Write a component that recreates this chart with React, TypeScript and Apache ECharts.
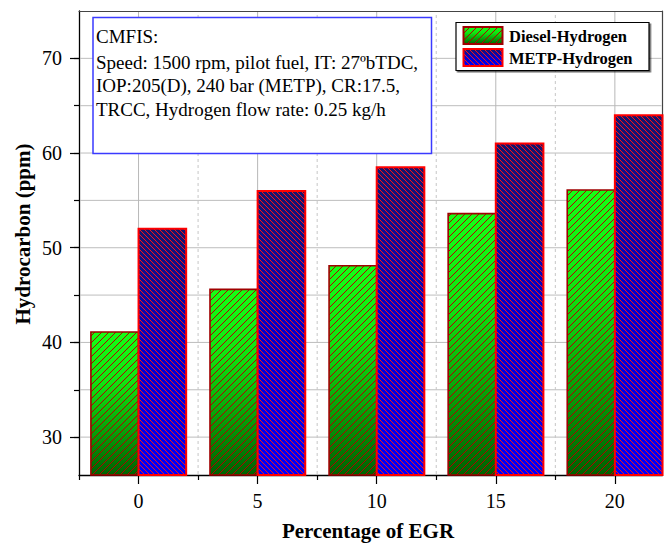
import React, { useEffect, useRef } from "react";
import * as echarts from "echarts";

// ---- data ----
const egr = [0, 5, 10, 15, 20];
const dieselHydrogen = [41.1, 45.6, 48.1, 53.6, 56.1];
const metpHydrogen = [52.0, 56.0, 58.5, 61.0, 64.0];
const seriesNames = ["Diesel-Hydrogen", "METP-Hydrogen"];
const xMajorTicks = [0, 5, 10, 15, 20];
const xMinorTicks = [-2.5, 2.5, 7.5, 12.5, 17.5];
const yMajorTicks = [30, 40, 50, 60, 70];
const yAllTicks = [30, 35, 40, 45, 50, 55, 60, 65, 70];
const xTitle = "Percentage of EGR";
const yTitle = "Hydrocarbon (ppm)";
const infoLines = [
  "CMFIS:",
  "Speed: 1500 rpm, pilot fuel, IT: 27ºbTDC,",
  "IOP:205(D), 240 bar (METP), CR:17.5,",
  "TRCC, Hydrogen flow rate: 0.25 kg/h",
];

const X_MIN = -2.5;
const X_MAX = 22;
const Y_MIN = 26;
const Y_MAX = 75;
const SERIF = '"Liberation Serif", "Times New Roman", serif';

function hatch(size: number, dir: string, color: string, lw: number) {
  const c = document.createElement("canvas");
  c.width = size;
  c.height = size;
  const ctx = c.getContext("2d")!;
  ctx.strokeStyle = color;
  ctx.lineWidth = lw;
  ctx.beginPath();
  if (dir === "/") {
    ctx.moveTo(-1, size + 1);
    ctx.lineTo(size + 1, -1);
    ctx.moveTo(-1, 1);
    ctx.lineTo(1, -1);
    ctx.moveTo(size - 1, size + 1);
    ctx.lineTo(size + 1, size - 1);
  } else {
    ctx.moveTo(-1, -1);
    ctx.lineTo(size + 1, size + 1);
    ctx.moveTo(size - 1, -1);
    ctx.lineTo(size + 1, 1);
    ctx.moveTo(-1, size - 1);
    ctx.lineTo(1, size + 1);
  }
  ctx.stroke();
  return {
    image: c.toDataURL(),
    repeat: "repeat",
    imageWidth: size,
    imageHeight: size,
  };
}

const greenGrad = () => ({
  type: "linear",
  x: 0,
  y: 0,
  x2: 0,
  y2: 1,
  colorStops: [
    { offset: 0, color: "#14ff14" },
    { offset: 0.35, color: "#10e410" },
    { offset: 1, color: "#006200" },
  ],
});
const blueGrad = () => ({
  type: "linear",
  x: 0,
  y: 0,
  x2: 0,
  y2: 1,
  colorStops: [
    { offset: 0, color: "#15156c" },
    { offset: 0.5, color: "#0000d0" },
    { offset: 1, color: "#0000ff" },
  ],
});

export default function App() {
  const ref = useRef<HTMLDivElement>(null);
  useEffect(() => {
    if (!ref.current) return;
    const chart = echarts.init(ref.current, undefined, { renderer: "svg" });
    const greenHatch = hatch(7, "/", "#b00000", 1);
    const blueHatch = hatch(5, "\\", "#ff1010", 1);

    const makeRender =
      (from: number, to: number, grad: any, pat: any, stroke: string, lw: number) =>
      (params: any, api: any) => {
        const x = api.value(0);
        const v = api.value(1);
        const p0 = api.coord([x + from, v]);
        const p1 = api.coord([x + to, Y_MIN]);
        const shape = { x: p0[0], y: p0[1], width: p1[0] - p0[0], height: p1[1] - p0[1] };
        return {
          type: "group",
          children: [
            { type: "rect", shape, style: { fill: grad } },
            { type: "rect", shape, style: { fill: pat, stroke, lineWidth: lw } },
          ],
        };
      };

    // grid line renderers (through the cartesian scales)
    const hLine = (params: any, api: any) => {
      const v = api.value(0);
      const a = api.coord([X_MIN, v]);
      const b = api.coord([X_MAX, v]);
      return {
        type: "line",
        shape: { x1: a[0] + 1, y1: a[1], x2: b[0] - 1, y2: b[1] },
        style: { stroke: "#bdbdbd", lineWidth: 1 },
      };
    };
    const vLine = (dashed: boolean) => (params: any, api: any) => {
      const v = api.value(0);
      const a = api.coord([v, Y_MIN]);
      const b = api.coord([v, Y_MAX]);
      return {
        type: "line",
        shape: { x1: a[0], y1: a[1] - 1, x2: b[0], y2: b[1] + 1 },
        style: dashed
          ? { stroke: "#c6c6c6", lineWidth: 1, lineDash: [3, 3] }
          : { stroke: "#b8b8b8", lineWidth: 1 },
      };
    };

    const baseY = {
      type: "value",
      min: Y_MIN,
      max: Y_MAX,
      position: "left",
      axisLine: { onZero: false, show: false },
      splitLine: { show: false },
    };
    const baseX = {
      type: "value",
      min: X_MIN,
      max: X_MAX,
      position: "bottom",
      axisLine: { onZero: false, show: false },
      splitLine: { show: false },
    };

    const graphics: any[] = [
      {
        type: "rect",
        z: 100,
        shape: { x: 93, y: 17.5, width: 338.5, height: 136 },
        style: { fill: "#fff", stroke: "#3a3aff", lineWidth: 1.5 },
      },
      ...infoLines.map((t, i) => ({
        type: "text",
        z: 101,
        x: 96,
        y: [36.5, 62, 85.5, 109][i],
        style: {
          text: t,
          fontSize: 19,
          fontFamily: SERIF,
          fill: "#000",
          align: "left",
          verticalAlign: "middle",
        },
      })),
      {
        type: "rect",
        z: 100,
        shape: { x: 456, y: 22.5, width: 193, height: 48 },
        style: {
          fill: "#fff",
          stroke: "#000",
          lineWidth: 1.2,
          shadowColor: "rgba(0,0,0,0.6)",
          shadowOffsetX: 1.5,
          shadowOffsetY: 1.5,
          shadowBlur: 0,
        },
      },
      { type: "rect", z: 101, shape: { x: 463.5, y: 27, width: 39, height: 17 }, style: { fill: greenGrad() } },
      {
        type: "rect",
        z: 102,
        shape: { x: 463.5, y: 27, width: 39, height: 17 },
        style: { fill: greenHatch, stroke: "#a00000", lineWidth: 2 },
      },
      { type: "rect", z: 101, shape: { x: 463.5, y: 49, width: 39, height: 17 }, style: { fill: blueGrad() } },
      {
        type: "rect",
        z: 102,
        shape: { x: 463.5, y: 49, width: 39, height: 17 },
        style: { fill: blueHatch, stroke: "#ff0000", lineWidth: 2 },
      },
      ...seriesNames.map((n, i) => ({
        type: "text",
        z: 101,
        x: 509,
        y: [36, 58][i],
        style: {
          text: n,
          fontSize: 16.5,
          fontWeight: "bold",
          fontFamily: SERIF,
          fill: "#000",
          align: "left",
          verticalAlign: "middle",
        },
      })),
      {
        type: "text",
        z: 101,
        x: 368,
        y: 531,
        style: {
          text: xTitle,
          fontSize: 21,
          fontWeight: "bold",
          fontFamily: SERIF,
          fill: "#000",
          align: "center",
          verticalAlign: "middle",
        },
      },
      {
        type: "text",
        z: 101,
        x: 23,
        y: 234,
        rotation: Math.PI / 2,
        style: {
          text: yTitle,
          fontSize: 21,
          fontWeight: "bold",
          fontFamily: SERIF,
          fill: "#000",
          align: "center",
          verticalAlign: "middle",
        },
      },
    ];

    const option: any = {
      animation: false,
      grid: { left: 79, right: 2.5, top: 11, bottom: 69, containLabel: false },
      xAxis: [
        {
          ...baseX,
          axisLine: { onZero: false, show: true, lineStyle: { color: "#000", width: 1.3 } },
          axisTick: { show: true, customValues: xMinorTicks, length: 5, lineStyle: { color: "#000", width: 1.2 } },
          axisLabel: { show: false },
        },
        {
          ...baseX,
          axisTick: { show: true, customValues: xMajorTicks, length: 9, lineStyle: { color: "#000", width: 1.2 } },
          axisLabel: {
            show: true,
            customValues: xMajorTicks,
            margin: 16,
            fontSize: 20,
            fontFamily: SERIF,
            color: "#000",
          },
        },
        {
          ...baseX,
          position: "top",
          axisLine: { onZero: false, show: true, lineStyle: { color: "#444", width: 1.2 } },
          axisTick: { show: false },
          axisLabel: { show: false },
        },
      ],
      yAxis: [
        {
          ...baseY,
          axisLine: { onZero: false, show: true, lineStyle: { color: "#000", width: 1.3 } },
          axisTick: { show: true, customValues: yAllTicks, length: 5, lineStyle: { color: "#000", width: 1.2 } },
          axisLabel: { show: false },
        },
        {
          ...baseY,
          axisTick: { show: true, customValues: yMajorTicks, length: 9, lineStyle: { color: "#000", width: 1.2 } },
          axisLabel: {
            show: true,
            customValues: yMajorTicks,
            margin: 17,
            fontSize: 20,
            fontFamily: SERIF,
            color: "#000",
          },
        },
        {
          ...baseY,
          position: "right",
          axisLine: { onZero: false, show: true, lineStyle: { color: "#444", width: 1.2 } },
          axisTick: { show: false },
          axisLabel: { show: false },
        },
      ],
      series: [
        {
          type: "custom",
          silent: true,
          xAxisIndex: 0,
          yAxisIndex: 0,
          encode: { y: 0 },
          data: yAllTicks.map((v) => [v]),
          renderItem: hLine,
          z: 1,
        },
        {
          type: "custom",
          silent: true,
          xAxisIndex: 0,
          yAxisIndex: 0,
          encode: { x: 0 },
          data: xMajorTicks.map((v) => [v]),
          renderItem: vLine(false),
          z: 1,
        },
        {
          type: "custom",
          silent: true,
          xAxisIndex: 0,
          yAxisIndex: 0,
          encode: { x: 0 },
          data: xMinorTicks.filter((v) => v > X_MIN).map((v) => [v]),
          renderItem: vLine(true),
          z: 1,
        },
        {
          name: seriesNames[0],
          type: "custom",
          xAxisIndex: 0,
          yAxisIndex: 0,
          encode: { x: 0, y: 1 },
          data: egr.map((e, i) => [e, dieselHydrogen[i]]),
          renderItem: makeRender(-2, 0, greenGrad(), greenHatch, "#a00000", 1.6),
          z: 5,
        },
        {
          name: seriesNames[1],
          type: "custom",
          xAxisIndex: 0,
          yAxisIndex: 0,
          encode: { x: 0, y: 1 },
          data: egr.map((e, i) => [e, metpHydrogen[i]]),
          renderItem: makeRender(0, 2, blueGrad(), blueHatch, "#ff0000", 2),
          z: 5,
        },
      ],
      graphic: graphics,
    };
    chart.setOption(option);
    return () => chart.dispose();
  }, []);
  return (
    <div
      ref={ref}
      style={{ position: "absolute", left: 0, top: 0, width: 665, height: 544, background: "#fff" }}
    />
  );
}
